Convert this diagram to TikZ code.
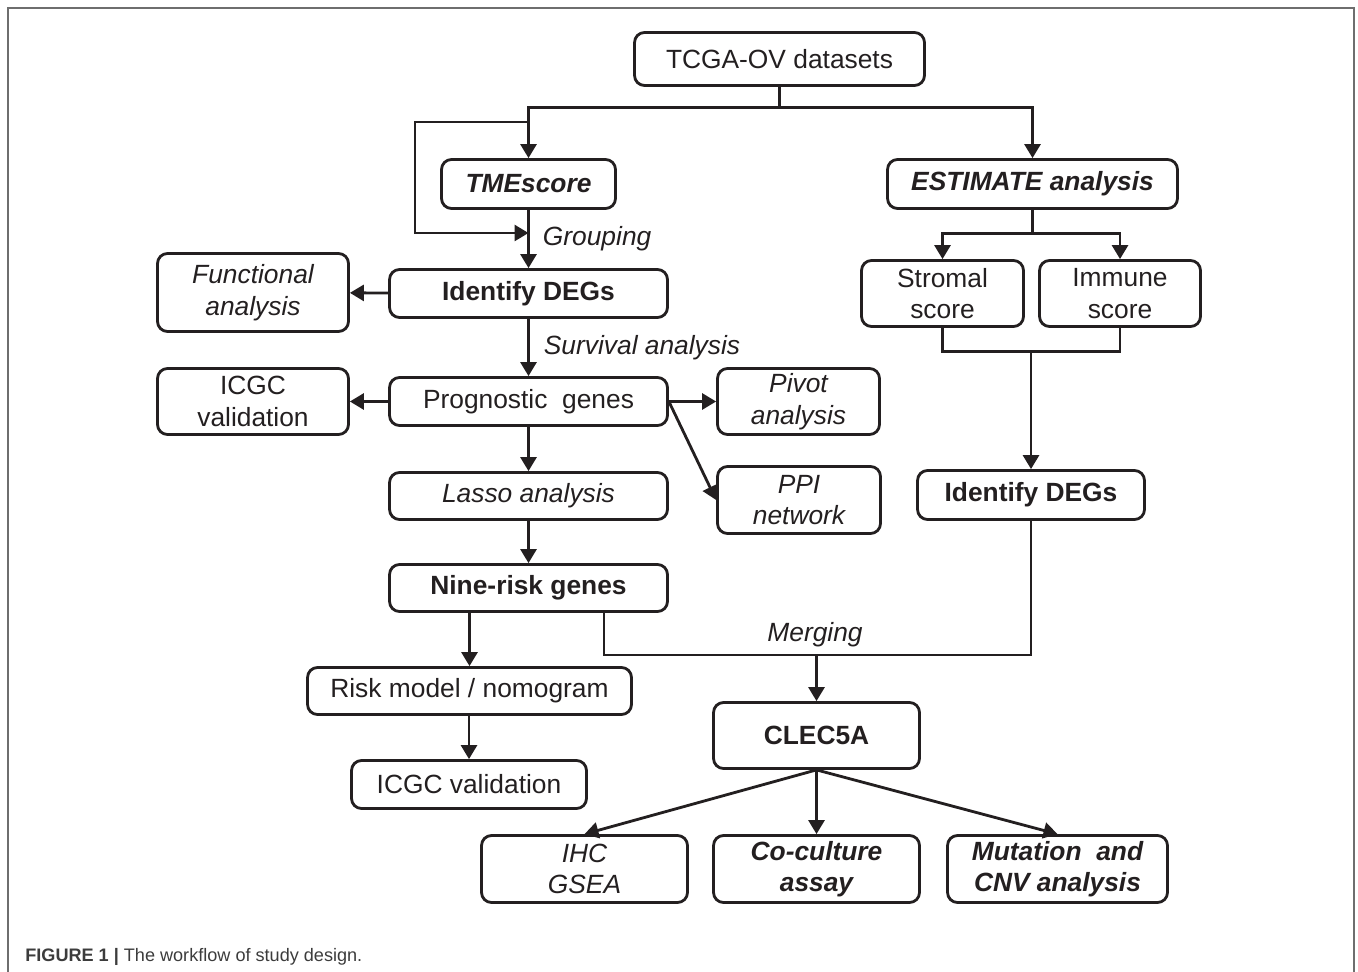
\documentclass[tikz,border=0pt]{standalone}
\usepackage{fontspec}
\setmainfont{Liberation Sans}
\usepackage{xcolor}
\usetikzlibrary{arrows.meta,positioning}
\definecolor{ink}{RGB}{35,31,32}
\definecolor{frm}{RGB}{110,110,110}
\definecolor{captc}{RGB}{60,60,60}
\newcommand\bxfont{\fontsize{15}{18}\selectfont}

\begin{document}
\begin{tikzpicture}[
    x=0.02cm, y=-0.02cm,
    >={Triangle[length=0.28cm,width=0.32cm]},
    blk/.style={rectangle,draw=ink,line width=1.6pt,rounded corners=0.2cm,
                inner sep=0pt,align=center,font=\bxfont,text=ink},
    itb/.style={blk,font=\bxfont\itshape},
    bfb/.style={blk,font=\bxfont\bfseries},
    bib/.style={blk,font=\bxfont\bfseries\itshape},
    ln/.style={line width=1.6pt,ink},
    arr/.style={ln,->},
    lbl/.style={font=\bxfont\itshape,text=ink,inner sep=0pt}
  ]
  \useasboundingbox (0,0) rectangle (1358,972);
  \draw[frm,line width=0.9pt] (8,972) |- (1354,8) -- (1354,972);

  % left column
  \node[blk,minimum width=5.8cm,minimum height=1.06cm]  (tcga)  at (779.5,59)  {TCGA-OV datasets};
  \node[bib,minimum width=3.48cm,minimum height=0.98cm] (tme)   at (528.5,184) {TMEscore};
  \node[bfb,minimum width=5.56cm,minimum height=0.96cm] (degs)  at (528.5,293.5) {Identify DEGs};
  \node[itb,minimum width=3.82cm,minimum height=1.56cm] (func)  at (253,292.5) {Functional\\analysis};
  \node[blk,minimum width=5.56cm,minimum height=0.96cm] (prog)  at (528.5,401.5) {Prognostic\ \ genes};
  \node[blk,minimum width=3.82cm,minimum height=1.32cm] (icgca) at (253,401.5) {ICGC\\validation};
  \node[itb,minimum width=3.24cm,minimum height=1.32cm] (piv)   at (798.5,401.5) {Pivot\\analysis};
  \node[itb,minimum width=3.26cm,minimum height=1.34cm] (ppi)   at (799,500)   {PPI\\network};
  \node[itb,minimum width=5.56cm,minimum height=0.94cm] (lasso) at (528.5,496) {Lasso analysis};
  \node[bfb,minimum width=5.56cm,minimum height=0.94cm] (nine)  at (528.5,588) {Nine-risk genes};
  \node[blk,minimum width=6.48cm,minimum height=0.94cm] (risk)  at (469.5,691) {Risk model / nomogram};
  \node[blk,minimum width=4.70cm,minimum height=0.96cm] (icgcb) at (469,784.5) {ICGC validation};

  % right column
  \node[bib,minimum width=5.8cm,minimum height=0.98cm]  (est)   at (1032.5,184) {ESTIMATE analysis};
  \node[blk,minimum width=3.24cm,minimum height=1.32cm] (str)   at (942.5,293.5) {Stromal\\score};
  \node[blk,minimum width=3.22cm,minimum height=1.32cm] (imm)   at (1120,293.5)  {Immune\\score};
  \node[bfb,minimum width=4.54cm,minimum height=0.98cm] (degsb) at (1031,495)    {Identify DEGs};

  % bottom
  \node[bfb,minimum width=4.12cm,minimum height=1.32cm] (clec)  at (816.5,735.5) {CLEC5A};
  \node[itb,minimum width=4.12cm,minimum height=1.34cm] (ihc)   at (584.5,869)   {IHC\\GSEA};
  \node[bib,minimum width=4.12cm,minimum height=1.34cm] (cocul) at (816.5,869)   {Co-culture\\assay};
  \node[bib,minimum width=4.40cm,minimum height=1.34cm] (mut)   at (1057.5,869)  {Mutation\ \ and\\CNV analysis};

  \coordinate (fork)  at (528.5,122);
  \coordinate (grp)   at (528.5,233);
  \coordinate (sjoin) at (1031,351);
  \coordinate (mrgpt) at (816.5,655);

  \draw[arr] (tcga.south) -- ++(0,21) -| (tme.north);
  \draw[arr] (tcga.south) -- ++(0,21) -| (est.north);
  \draw[arr] (fork) -- ++(-113.5,0) |- (grp);
  \draw[arr] (tme) -- node[lbl,right=0.26cm] (grping) {Grouping} (degs);
  \draw[arr] (degs) -- (func);
  \draw[arr] (degs) -- node[lbl,right=0.28cm] (surv) {Survival analysis} (prog);
  \draw[arr] (prog) -- (icgca);
  \draw[arr] (prog.east) -- (piv.west);
  \draw[arr] (prog.east) -- (ppi.west);
  \draw[arr] (prog) -- (lasso);
  \draw[arr] (lasso) -- (nine);
  \draw[arr] (nine.south -| risk.north) -- (risk.north);
  \draw[arr] (risk.south -| icgcb.north) -- (icgcb.north);

  \draw[arr] (est.south) -- ++(0,24) -| (str.north);
  \draw[arr] (est.south) -- ++(0,24) -| (imm.north);
  \draw[ln]  (str.south) -- ++(0,24) -| (imm.south);
  \draw[arr] (sjoin) -- (degsb.north);

  \draw[ln]  (nine.south) ++(75.5,0) |- (mrgpt) -| (degsb.south);
  \node[lbl] (mrg) at (815,635) {Merging};
  \draw[arr] (mrgpt) -- (clec.north);
  \draw[arr] (clec.south) -- (ihc.north);
  \draw[arr] (clec.south) -- (cocul.north);
  \draw[arr] (clec.south) -- (mut.north);

  \node[anchor=base west,inner sep=0pt,text=captc,font=\fontsize{10.3}{12}\selectfont]
    (cap) at (25,961) {\textbf{FIGURE 1 |} The workflow of study design.};
\end{tikzpicture}
\end{document}
